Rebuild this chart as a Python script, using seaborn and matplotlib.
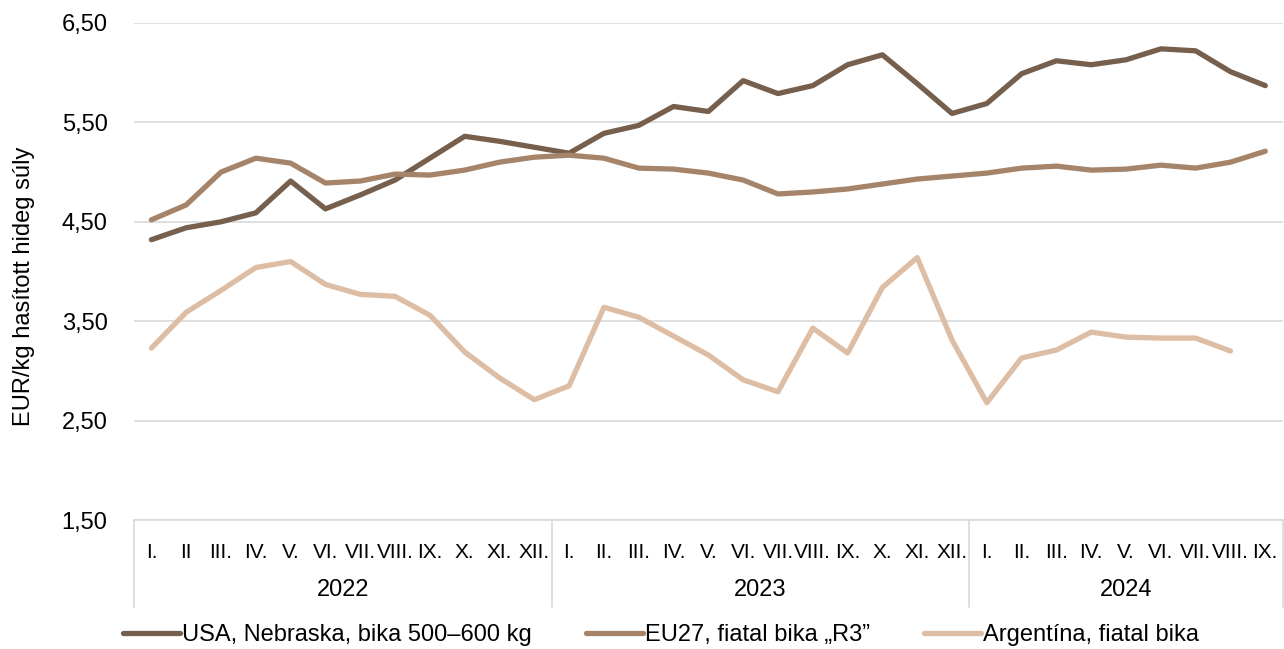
import matplotlib
matplotlib.use('Agg')
import matplotlib.pyplot as plt
import matplotlib.transforms as mtransforms
import numpy as np
import pandas as pd
import seaborn as sns

# data
months_2022 = ['I.', 'II', 'III.', 'IV.', 'V.', 'VI.', 'VII.', 'VIII.', 'IX.', 'X.', 'XI.', 'XII.']
months_2023 = ['I.', 'II.', 'III.', 'IV.', 'V.', 'VI.', 'VII.', 'VIII.', 'IX.', 'X.', 'XI.', 'XII.']
months_2024 = ['I.', 'II.', 'III.', 'IV.', 'V.', 'VI.', 'VII.', 'VIII.', 'IX.']
years = ['2022', '2023', '2024']

usa = [4.32, 4.44, 4.50, 4.59, 4.91, 4.63, 4.77, 4.92, 5.14, 5.36, 5.31, 5.25,
       5.19, 5.39, 5.47, 5.66, 5.61, 5.92, 5.79, 5.87, 6.08, 6.18, 5.89, 5.59,
       5.69, 5.99, 6.12, 6.08, 6.13, 6.24, 6.22, 6.01, 5.87]
eu27 = [4.52, 4.67, 5.00, 5.14, 5.09, 4.89, 4.91, 4.98, 4.97, 5.02, 5.10, 5.15,
        5.17, 5.14, 5.04, 5.03, 4.99, 4.92, 4.78, 4.80, 4.83, 4.88, 4.93, 4.96,
        4.99, 5.04, 5.06, 5.02, 5.03, 5.07, 5.04, 5.10, 5.21]
argentina = [3.23, 3.59, 3.81, 4.04, 4.10, 3.87, 3.77, 3.75, 3.56, 3.19, 2.93, 2.71,
             2.85, 3.64, 3.54, 3.35, 3.16, 2.91, 2.79, 3.43, 3.18, 3.84, 4.14, 3.31,
             2.68, 3.13, 3.21, 3.39, 3.34, 3.33, 3.33, 3.20, np.nan]

series_names = ['USA, Nebraska, bika 500–600 kg', 'EU27, fiatal bika „R3”', 'Argentína, fiatal bika']
colors = ['#76604D', '#A5846A', '#DDBDA4']

months = months_2022 + months_2023 + months_2024
year_sizes = [len(months_2022), len(months_2023), len(months_2024)]
n = len(months)

df = pd.DataFrame({
    'idx': list(range(n)) * 3,
    'value': usa + eu27 + argentina,
    'series': [series_names[0]] * n + [series_names[1]] * n + [series_names[2]] * n,
})

sns.set_style('white')
plt.rcParams['font.family'] = ['Liberation Sans', 'DejaVu Sans']
plt.rcParams['text.color'] = 'black'
plt.rcParams['axes.labelcolor'] = 'black'
plt.rcParams['ytick.color'] = 'black'
fs = 17

fig = plt.figure(figsize=(12.84, 6.49), dpi=100)
ax = fig.add_axes([134 / 1284, 1 - 520 / 649, 1 - 134 / 1284 - 0.001, (520 - 23) / 649])

sns.lineplot(data=df, x='idx', y='value', hue='series', palette=colors,
             hue_order=series_names, linewidth=3.8, ax=ax, legend=False,
             solid_capstyle='round', solid_joinstyle='round')

ax.set_xlim(-0.5, n - 0.5)
ax.set_ylim(1.5, 6.5)
yticks = [1.5, 2.5, 3.5, 4.5, 5.5, 6.5]
ax.set_yticks(yticks)
ax.set_yticklabels([f'{v:.2f}'.replace('.', ',') for v in yticks], fontsize=fs)
ax.yaxis.grid(True, color='#D9D9D9', linewidth=1.2)
ax.set_axisbelow(True)
ax.tick_params(axis='y', length=0, pad=19)
for s in ['top', 'right', 'left']:
    ax.spines[s].set_visible(False)
ax.spines['bottom'].set_color('#D9D9D9')
ax.spines['bottom'].set_linewidth(1.2)

ax.set_xticks([])
ax.set_xlabel('')
ax.set_ylabel('EUR/kg hasított hideg súly', fontsize=fs)
ax.yaxis.set_label_coords(-0.086, 0.47)

# two-level category axis (month labels a bit smaller so they don't collide)
trans = mtransforms.blended_transform_factory(ax.transData, ax.transAxes)
for i, m in enumerate(months):
    ax.text(i, -0.066, m, transform=trans, ha='center', va='center', fontsize=15)
start = 0
bounds = [-0.5]
for y, size in zip(years, year_sizes):
    mid = start + (size - 1) / 2
    ax.text(mid, -0.14, y, transform=trans, ha='center', va='center', fontsize=fs)
    start += size
    bounds.append(start - 0.5)
for b in bounds:
    ax.plot([b, b], [0, -0.175], transform=trans, color='#D9D9D9', linewidth=1.2, clip_on=False)

handles = [plt.Line2D([], [], color=c, linewidth=3.8, solid_capstyle='round') for c in colors]
fig.legend(handles, series_names, loc='center', bbox_to_anchor=(0.515, 1 - 635 / 649),
           ncol=3, frameon=False, fontsize=fs, handlelength=2.4, handletextpad=0.1,
           columnspacing=2.3)

fig.savefig('out.png', dpi=100)
